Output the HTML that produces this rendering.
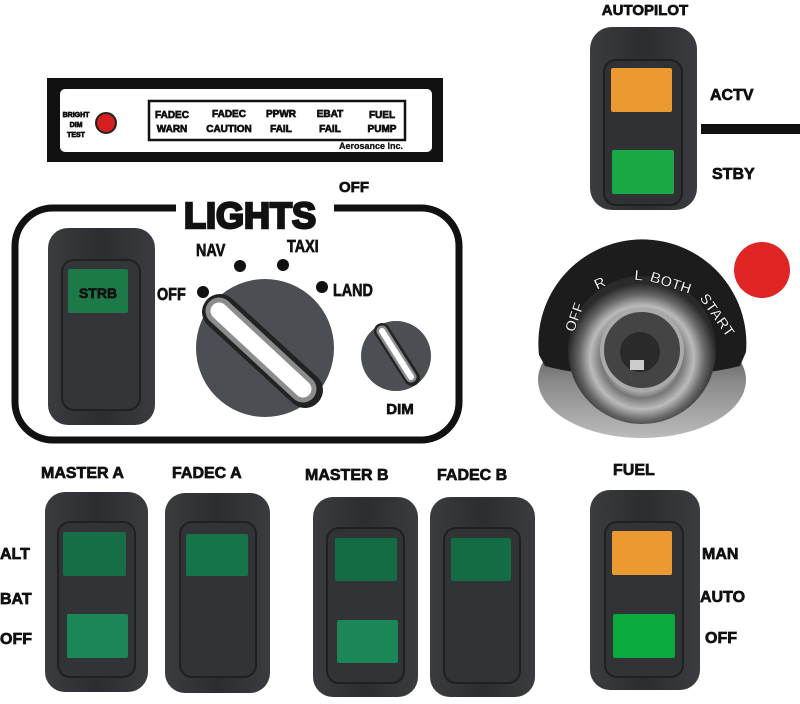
<!DOCTYPE html>
<html><head><meta charset="utf-8"><style>
html,body{margin:0;padding:0;background:#fff;}
svg{display:block;}
text{font-family:"Liberation Sans",sans-serif;font-weight:bold;fill:#111;stroke:#111;stroke-width:0.7;}
</style></head><body>
<svg width="800" height="704" viewBox="0 0 800 704" xmlns="http://www.w3.org/2000/svg">
<defs>
<linearGradient id="sw" x1="0" y1="0" x2="1" y2="0">
<stop offset="0" stop-color="#3a3c3f"/><stop offset="0.5" stop-color="#2b2d30"/><stop offset="1" stop-color="#3a3c3f"/>
</linearGradient>
<radialGradient id="key" cx="0.5" cy="0.55" r="0.5">
<stop offset="0" stop-color="#555"/><stop offset="0.4" stop-color="#ccc"/><stop offset="0.55" stop-color="#777"/><stop offset="0.7" stop-color="#bbb"/><stop offset="0.85" stop-color="#666"/><stop offset="1" stop-color="#2a2a2a"/>
</radialGradient>
<linearGradient id="bot" x1="0" y1="0" x2="0" y2="1">
<stop offset="0" stop-color="#333"/><stop offset="0.5" stop-color="#888"/><stop offset="1" stop-color="#bbb"/>
</linearGradient>
</defs>

<!-- Annunciator -->
<rect x="47" y="78" width="396" height="84" fill="#111"/>
<rect x="60" y="89" width="372" height="63" rx="5" fill="#fff"/>
<g style="stroke-width:0.3">
<text x="76" y="117" font-size="7" text-anchor="middle">BRIGHT</text>
<text x="76" y="127" font-size="7" text-anchor="middle">DIM</text>
<text x="76" y="137" font-size="7" text-anchor="middle">TEST</text>
</g>
<circle cx="106" cy="123" r="10" fill="#d42020" stroke="#222" stroke-width="2"/>
<rect x="149" y="101" width="256" height="39" fill="none" stroke="#111" stroke-width="2.5"/>
<g font-size="10" text-anchor="middle" style="stroke-width:0.4">
<text x="172" y="118">FADEC</text><text x="172" y="132">WARN</text>
<text x="229" y="117">FADEC</text><text x="229" y="132">CAUTION</text>
<text x="281" y="117">PPWR</text><text x="281" y="132">FAIL</text>
<text x="330" y="117">EBAT</text><text x="330" y="132">FAIL</text>
<text x="382" y="118">FUEL</text><text x="382" y="132">PUMP</text>
</g>
<text x="403" y="149" font-size="9" text-anchor="end" style="stroke-width:0.3">Aerosance Inc.</text>

<!-- Autopilot -->
<text x="645" y="15" font-size="15" text-anchor="middle">AUTOPILOT</text>
<rect x="590" y="27" width="107" height="183" rx="22" fill="url(#sw)"/>
<rect x="604" y="60" width="78" height="145" rx="12" fill="#2f3134" stroke="#1e1f21" stroke-width="2"/>
<rect x="611" y="68" width="61" height="44" rx="2" fill="#eb9a32"/>
<rect x="612" y="150" width="62" height="44" rx="2" fill="#1aa844"/>
<text x="710" y="100" font-size="16">ACTV</text>
<text x="712" y="179" font-size="16">STBY</text>
<rect x="701" y="124" width="99" height="10" fill="#111"/>

<!-- Lights panel -->
<rect x="15" y="208" width="444" height="232" rx="38" fill="none" stroke="#111" stroke-width="7"/>
<rect x="176" y="192" width="158" height="40" fill="#fff"/>
<text x="250" y="228" font-size="36" text-anchor="middle" style="stroke-width:2.5" textLength="132" lengthAdjust="spacingAndGlyphs">LIGHTS</text>
<text x="339" y="192" font-size="15">OFF</text>

<rect x="48" y="228" width="107" height="197" rx="20" fill="url(#sw)"/>
<rect x="62" y="260" width="78" height="150" rx="12" fill="#333538" stroke="#202123" stroke-width="2"/>
<rect x="68" y="269" width="60" height="44" rx="2" fill="#1d7a48"/>
<text x="98" y="298" font-size="14" text-anchor="middle">STRB</text>

<g style="stroke-width:1.3">
<text x="157" y="300" font-size="18" transform="translate(157 300) scale(0.8 1) translate(-157 -300)">OFF</text>
<text x="196" y="256" font-size="18" transform="translate(196 256) scale(0.8 1) translate(-196 -256)">NAV</text>
<text x="287" y="252" font-size="18" transform="translate(287 252) scale(0.8 1) translate(-287 -252)">TAXI</text>
<text x="333" y="296" font-size="18" transform="translate(333 296) scale(0.8 1) translate(-333 -296)">LAND</text>
</g>
<circle cx="203" cy="292" r="6" fill="#111"/>
<circle cx="240" cy="266" r="6" fill="#111"/>
<circle cx="283" cy="265" r="6" fill="#111"/>
<circle cx="322" cy="287" r="6" fill="#111"/>

<circle cx="265" cy="348" r="69" fill="#4b4e52"/>
<line x1="220" y1="312" x2="305" y2="390" stroke="#222" stroke-width="36" stroke-linecap="round"/>
<line x1="219" y1="311" x2="303" y2="389" stroke="#8a8c8f" stroke-width="27" stroke-linecap="round"/>
<line x1="219" y1="311" x2="303" y2="389" stroke="#fff" stroke-width="17" stroke-linecap="round"/>

<circle cx="396" cy="356" r="35" fill="#4b4e52"/>
<line x1="382" y1="331" x2="412" y2="378" stroke="#222" stroke-width="16" stroke-linecap="round"/>
<line x1="382" y1="331" x2="411" y2="377" stroke="#8a8c8f" stroke-width="11" stroke-linecap="round"/>
<line x1="382" y1="331" x2="411" y2="377" stroke="#fff" stroke-width="6" stroke-linecap="round"/>
<text x="400" y="414" font-size="15" text-anchor="middle">DIM</text>

<!-- Key switch -->
<ellipse cx="642" cy="380" rx="104" ry="58" fill="url(#bot)"/>
<path d="M539 355 A104 104 0 1 1 746 352 L740 366 Q700 376 642 376 Q580 376 545 366 Z" fill="#1c1c1c"/>
<circle cx="642" cy="350" r="74" fill="url(#key)"/>
<circle cx="642" cy="350" r="40" fill="#444" stroke="#aaa" stroke-width="4"/>
<circle cx="640" cy="352" r="20" fill="#2a2a2a"/>
<rect x="630" y="360" width="14" height="10" fill="#ccc"/>
<g style="font-weight:normal;stroke:#eee;stroke-width:0.4">
<text font-size="15" style="fill:#eee" transform="translate(574 333) rotate(-70)">OFF</text>
<text font-size="15" style="fill:#eee" transform="translate(597 290) rotate(-25)">R</text>
<text font-size="15" style="fill:#eee" transform="translate(634 280) rotate(5)">L</text>
<text font-size="15" style="fill:#eee" transform="translate(649 281) rotate(18)">BOTH</text>
<text font-size="15" style="fill:#eee" transform="translate(699 298) rotate(55)">START</text>
</g>
<circle cx="762" cy="270" r="28" fill="#e02525"/>

<!-- Bottom row -->
<g font-size="16">
<text x="41" y="478">MASTER A</text>
<text x="172" y="478">FADEC A</text>
<text x="305" y="480">MASTER B</text>
<text x="437" y="480">FADEC B</text>
<text x="613" y="475">FUEL</text>
<text x="0" y="559">ALT</text>
<text x="0" y="604">BAT</text>
<text x="0" y="644">OFF</text>
<text x="702" y="559">MAN</text>
<text x="700" y="602">AUTO</text>
<text x="705" y="643">OFF</text>
</g>

<!-- Master A -->
<rect x="45" y="492" width="103" height="200" rx="20" fill="url(#sw)"/>
<rect x="58" y="522" width="77" height="155" rx="12" fill="#313336" stroke="#1f2022" stroke-width="2"/>
<rect x="63" y="532" width="63" height="44" rx="2" fill="#156e45"/>
<rect x="67" y="614" width="61" height="44" rx="2" fill="#1b8656"/>
<!-- Fadec A -->
<rect x="165" y="493" width="105" height="200" rx="20" fill="url(#sw)"/>
<rect x="180" y="522" width="76" height="155" rx="12" fill="#313336" stroke="#1f2022" stroke-width="2"/>
<rect x="186" y="534" width="62" height="42" rx="2" fill="#167548"/>
<!-- Master B -->
<rect x="313" y="497" width="105" height="200" rx="20" fill="url(#sw)"/>
<rect x="327" y="528" width="77" height="155" rx="12" fill="#313336" stroke="#1f2022" stroke-width="2"/>
<rect x="335" y="538" width="62" height="43" rx="2" fill="#146c44"/>
<rect x="337" y="620" width="61" height="43" rx="2" fill="#1b8656"/>
<!-- Fadec B -->
<rect x="430" y="497" width="105" height="200" rx="20" fill="url(#sw)"/>
<rect x="444" y="528" width="76" height="155" rx="12" fill="#313336" stroke="#1f2022" stroke-width="2"/>
<rect x="451" y="538" width="60" height="43" rx="2" fill="#146c44"/>
<!-- Fuel -->
<rect x="590" y="490" width="110" height="200" rx="20" fill="url(#sw)"/>
<rect x="605" y="522" width="78" height="155" rx="12" fill="#313336" stroke="#1f2022" stroke-width="2"/>
<rect x="612" y="531" width="60" height="44" rx="2" fill="#eb9a32"/>
<rect x="613" y="614" width="62" height="44" rx="2" fill="#0aaa3c"/>
</svg>
</body></html>
